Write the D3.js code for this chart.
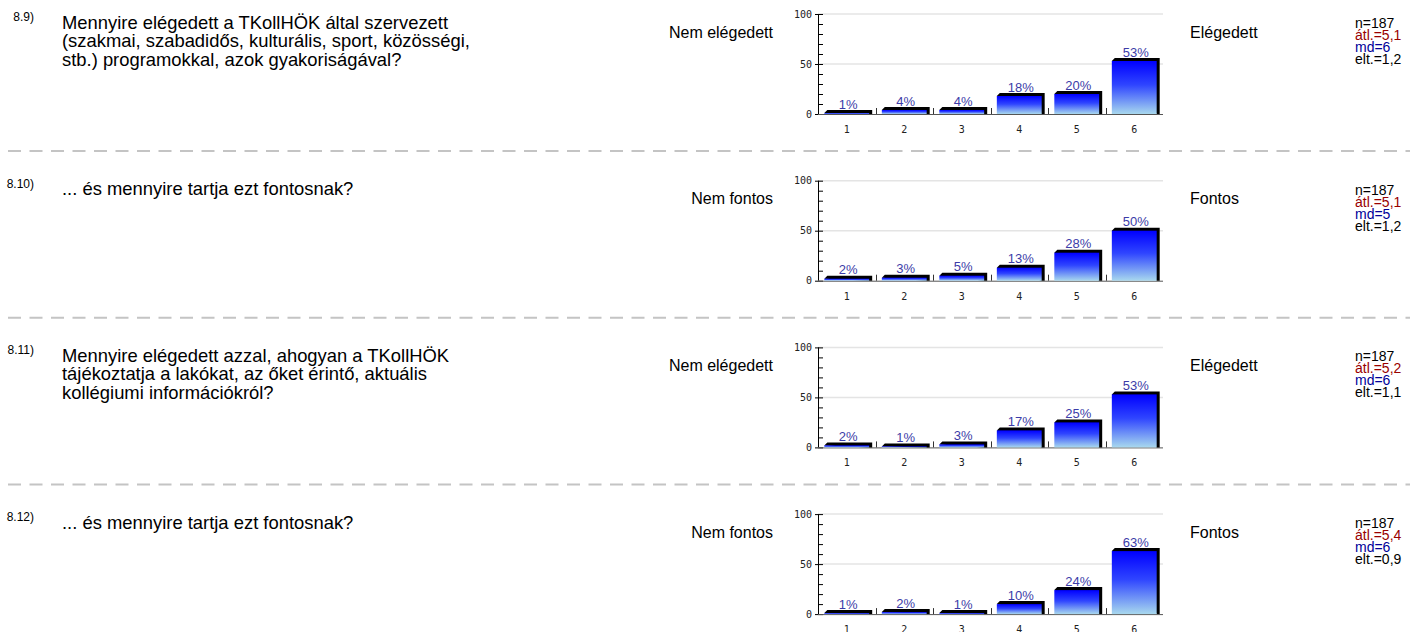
<!DOCTYPE html>
<html lang="hu">
<head>
    <meta charset="UTF-8">
    <title>Kérdőív eredmények</title>
    <style>
        body { margin: 0; background: #ffffff; }
        svg { display: block; font-family: Arial, "Liberation Sans", sans-serif; }
    </style>
</head>
<body>
    <svg id="chart"></svg>

    <script src="https://d3js.org/d3.v7.min.js"></script>
    <script>
        // question numbers and texts (one entry per line)
        const questionNumbers = ["8.9)", "8.10)", "8.11)", "8.12)"];
        const questionLines = [
            ["Mennyire elégedett a TKollHÖK által szervezett",
             "(szakmai, szabadidős, kulturális, sport, közösségi,",
             "stb.) programokkal, azok gyakoriságával?"],
            ["... és mennyire tartja ezt fontosnak?"],
            ["Mennyire elégedett azzal, ahogyan a TKollHÖK",
             "tájékoztatja a lakókat, az őket érintő, aktuális",
             "kollégiumi információkról?"],
            ["... és mennyire tartja ezt fontosnak?"]
        ];
        const leftLabels = ["Nem elégedett", "Nem fontos", "Nem elégedett", "Nem fontos"];
        const rightLabels = ["Elégedett", "Fontos", "Elégedett", "Fontos"];

        const categories = ["1", "2", "3", "4", "5", "6"];
        const percents = [
            [1, 4, 4, 18, 20, 53],
            [2, 3, 5, 13, 28, 50],
            [2, 1, 3, 17, 25, 53],
            [1, 2, 1, 10, 24, 63]
        ];

        const statN = ["187", "187", "187", "187"];
        const statMean = ["5,1", "5,1", "5,2", "5,4"];
        const statMedian = ["6", "5", "6", "6"];
        const statSd = ["1,2", "1,2", "1,1", "0,9"];

        const W = 1410, H = 632;
        const rowH = 166.7;

        const svg = d3.select("#chart")
            .attr("width", W)
            .attr("height", H);

        // bar gradient
        const grad = svg.append("defs").append("linearGradient")
            .attr("id", "barGrad")
            .attr("x1", 0).attr("y1", 0).attr("x2", 0).attr("y2", 1);
        grad.append("stop").attr("offset", "0%").attr("stop-color", "#0000ff");
        grad.append("stop").attr("offset", "45%").attr("stop-color", "#2f45ff");
        grad.append("stop").attr("offset", "100%").attr("stop-color", "#a8d8ee");

        const x = d3.scaleBand()
            .domain(categories)
            .range([818, 1163])
            .paddingInner(0.22)
            .paddingOuter(0.11);

        const y = d3.scaleLinear()
            .domain([0, 100])
            .range([114, 14]);

        const depth = 3;

        percents.forEach((vals, i) => {
            const g = svg.append("g")
                .attr("transform", `translate(0,${i * rowH})`);

            // question number and text
            g.append("text")
                .attr("x", 34).attr("y", 21)
                .attr("text-anchor", "end")
                .attr("font-size", 12)
                .attr("fill", "#000")
                .text(questionNumbers[i]);

            g.append("text")
                .attr("font-size", 18.4)
                .attr("fill", "#000")
                .selectAll("tspan")
                .data(questionLines[i])
                .join("tspan")
                .attr("x", 62)
                .attr("y", (d, k) => 28.5 + k * 18.5)
                .text(d => d);

            // scale end labels
            g.append("text")
                .attr("x", 773).attr("y", 37.5)
                .attr("text-anchor", "end")
                .attr("font-size", 16)
                .text(leftLabels[i]);

            g.append("text")
                .attr("x", 1190).attr("y", 37.5)
                .attr("font-size", 16)
                .text(rightLabels[i]);

            // stats block
            const stats = [
                { t: "n=" + statN[i], c: "#000000" },
                { t: "átl.=" + statMean[i], c: "#990000" },
                { t: "md=" + statMedian[i], c: "#000099" },
                { t: "elt.=" + statSd[i], c: "#000000" }
            ];
            g.append("g").selectAll("text")
                .data(stats)
                .join("text")
                .attr("x", 1355)
                .attr("y", (d, k) => 28 + k * 12)
                .attr("font-size", 14)
                .attr("fill", d => d.c)
                .text(d => d.t);

            // gridlines
            g.append("g").selectAll("line")
                .data([50, 100])
                .join("line")
                .attr("x1", 818).attr("x2", 1163)
                .attr("y1", d => y(d)).attr("y2", d => y(d))
                .attr("stroke", "#e4e4e4")
                .attr("stroke-width", 1.5);

            // y axis
            const yAxis = g.append("g")
                .attr("transform", "translate(818,0)")
                .call(d3.axisLeft(y).tickValues([0, 50, 100]).tickSize(0).tickPadding(6));
            yAxis.select(".domain").remove();
            yAxis.selectAll("text")
                .attr("font-family", "'DejaVu Sans Mono', monospace")
                .attr("font-size", 10)
                .attr("fill", "#222");

            g.append("line")
                .attr("x1", 818.5).attr("x2", 818.5)
                .attr("y1", y(100)).attr("y2", y(0))
                .attr("stroke", "#000");
            g.append("g").selectAll("line")
                .data(d3.range(0, 101, 10))
                .join("line")
                .attr("x1", d => d % 50 === 0 ? 815 : 818)
                .attr("x2", 823)
                .attr("y1", d => Math.round(y(d)) + 0.5)
                .attr("y2", d => Math.round(y(d)) + 0.5)
                .attr("stroke", "#000");

            // baseline and separators between categories
            g.append("line")
                .attr("x1", 818).attr("x2", 1163)
                .attr("y1", y(0) + 0.5).attr("y2", y(0) + 0.5)
                .attr("stroke", "#555");
            g.append("g").selectAll("line")
                .data(categories.slice(1))
                .join("line")
                .attr("x1", d => Math.round(x(d) - x.step() * x.paddingInner() / 2) + 0.5)
                .attr("x2", d => Math.round(x(d) - x.step() * x.paddingInner() / 2) + 0.5)
                .attr("y1", y(0) - 6).attr("y2", y(0))
                .attr("stroke", "#333");

            // x labels
            g.append("g").selectAll("text")
                .data(categories)
                .join("text")
                .attr("x", d => x(d) + x.bandwidth() / 2)
                .attr("y", 133)
                .attr("text-anchor", "middle")
                .attr("font-family", "'DejaVu Sans Mono', monospace")
                .attr("font-size", 10)
                .attr("fill", "#222")
                .text(d => d);

            const data = categories.map((c, k) => ({ c, v: vals[k] }));

            // 3D shadow (top and right side)
            g.append("g").selectAll("polygon")
                .data(data)
                .join("polygon")
                .attr("points", d => {
                    const x0 = x(d.c), x1 = x(d.c) + x.bandwidth();
                    const yt = y(d.v), yb = y(0);
                    return [[x0, yt], [x0 + depth, yt - depth], [x1 + depth, yt - depth],
                            [x1 + depth, yb], [x1, yb]].join(" ");
                })
                .attr("fill", "#000");

            // bars
            g.append("g").selectAll("rect")
                .data(data)
                .join("rect")
                .attr("x", d => x(d.c))
                .attr("y", d => y(d.v))
                .attr("width", x.bandwidth())
                .attr("height", d => y(0) - y(d.v))
                .attr("fill", "url(#barGrad)");

            // value labels
            g.append("g").selectAll("text")
                .data(data)
                .join("text")
                .attr("x", d => x(d.c) + x.bandwidth() / 2 + 1.5)
                .attr("y", d => y(d.v) - depth - 1.5)
                .attr("text-anchor", "middle")
                .attr("font-size", 13)
                .attr("fill", "#3c3ca8")
                .text(d => d.v + "%");

            // dashed separator
            if (i < percents.length - 1) {
                g.append("line")
                    .attr("x1", 8).attr("x2", W)
                    .attr("y1", 151).attr("y2", 151)
                    .attr("stroke", "#c4c4c4")
                    .attr("stroke-width", 2)
                    .attr("stroke-dasharray", "13,8.5");
            }
        });
    </script>
</body>
</html>
